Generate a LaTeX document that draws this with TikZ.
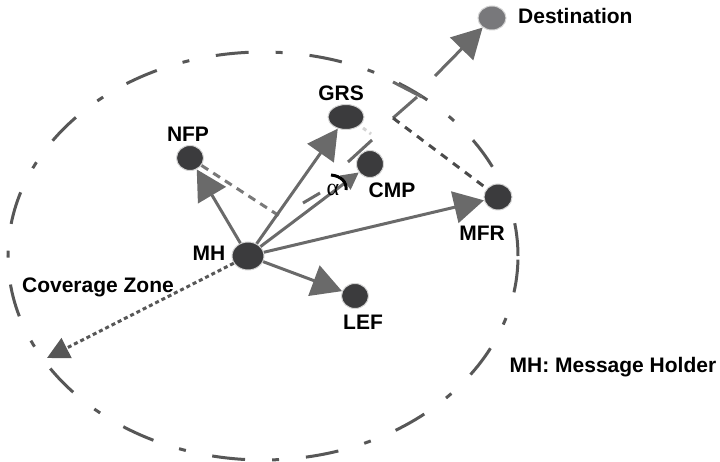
\documentclass[tikz,border=0pt]{standalone}
\usepackage{fontspec}
\setmainfont{Liberation Sans}
\newfontfamily\greekserif{Liberation Serif}
\usepackage{tikz}
\usetikzlibrary{arrows.meta}
\usetikzlibrary{shapes.geometric}
\usetikzlibrary{positioning}

\definecolor{nodegray}{HTML}{3B3B3D}
\definecolor{destgray}{HTML}{78787B}
\definecolor{halo}{HTML}{D4D4D4}
\definecolor{arrgray}{HTML}{6A6A6A}
\definecolor{zonegray}{HTML}{575757}
\definecolor{dashgray}{HTML}{4A4A4A}

\tikzset{
  dot/.style={ellipse, fill=nodegray, draw=halo, line width=1pt, inner sep=0pt,
    minimum width=27pt, minimum height=25pt},
  lbl/.style={font=\fontsize{21}{25}\selectfont\bfseries, inner sep=0pt},
  arr/.style={draw=arrgray, line width=3pt, -{Triangle[length=30pt,width=32pt,fill=arrgray]}},
  zone/.style={draw=zonegray, line width=3pt, dash pattern=on 33pt off 27pt on 7pt off 27pt}
}

\begin{document}
\begin{tikzpicture}[x=1pt,y=-1pt]
\useasboundingbox (0,0) rectangle (720,462);
% coverage zone
\draw[zone] (263,256) ellipse [x radius=255pt, y radius=204pt];

% nodes
\node[dot, minimum width=32pt, minimum height=28pt] (mh) at (248,256) {};
\node[dot] (nfp) at (190,158) {};
\node[dot, minimum width=36pt] (grs) at (346,117) {};
\node[dot, minimum height=27pt] (cmp) at (370,164) {};
\node[dot, minimum width=28pt, minimum height=26pt] (mfr) at (498,197) {};
\node[dot] (lef) at (355,296) {};
\node[dot, fill=destgray, minimum width=28pt, minimum height=24pt] (dest) at (492,18) {};

% labels
\node[lbl] (mhlbl) at (209,253) {MH};
\node[lbl] (nfplbl) at (188,134) {NFP};
\node[lbl] (grslbl) at (341,93) {GRS};
\node[lbl] (cmplbl) at (392,190) {CMP};
\node[lbl] (mfrlbl) at (482,233) {MFR};
\node[lbl] (leflbl) at (363,322) {LEF};
\node[lbl, anchor=west] (destlbl) at (518,16) {Destination};
\node[lbl] (zonelbl) at (98,287) {Coverage Zone};
\node[lbl] (keylbl) at (613,367) {MH: Message Holder};

% free ends
\coordinate (edge) at (47,358);
\coordinate (nfpfoot) at (281,217);
\coordinate (h1) at (303,203);
\coordinate (h2) at (320,193);
\coordinate (h3) at (348,162);
\coordinate (h4) at (372,140);
\coordinate (g1) at (363,128);
\coordinate (g2) at (371,134);
\coordinate (b1) at (393,82);
\coordinate (b2) at (422,97);
\coordinate (b3) at (417,97);
\coordinate (b4) at (393,118);
\coordinate (fwd) at (435,76);

% helper lines
\draw[draw=arrgray!90, line width=3pt, dash pattern=on 8pt off 6pt] (nfp) -- (nfpfoot);
\draw[arrgray, line width=3pt] (h1) -- (h2);
\draw[arrgray, line width=3pt] (h3) -- (h4);
\draw[halo, line width=3pt, dash pattern=on 4pt off 4pt] (g1) -- (g2);
\draw[arrgray, line width=3pt] (b1) -- (b2);
\draw[arrgray, line width=3pt] (b3) -- (b4);
\draw[dashgray, line width=3pt, dash pattern=on 8pt off 7pt] (b4) -- (mfr);

% arrows from MH
\draw[arr] (mh) -- (nfp);
\draw[arr] (mh) -- (grs);
\draw[arr, -{Triangle[length=17pt,width=17pt,fill=arrgray]}] (mh) -- (cmp);
\draw[arr] (mh) -- (mfr);
\draw[arr] (mh) -- (lef);
\draw[arr] (fwd) -- (dest);
\draw[draw=zonegray, line width=3pt, dash pattern=on 4pt off 3pt,
  -{Triangle[length=22pt,width=22pt,fill=zonegray]}] (mh) -- (edge);

% angle
\draw[black, line width=3pt] (331,175) .. controls (341,176) and (347,182) .. (346,190);
\node[font=\fontsize{24}{28}\greekserif, inner sep=0pt] (alpha) at (333,190) {α};
\end{tikzpicture}
\end{document}
